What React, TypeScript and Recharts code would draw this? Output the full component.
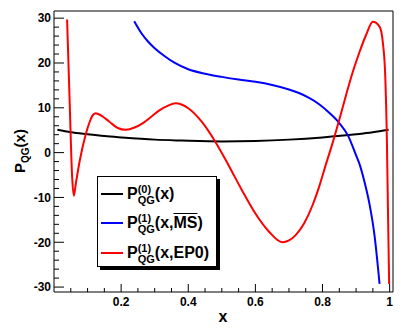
import { Legend, Line, LineChart, ReferenceArea, XAxis, YAxis } from "recharts";

// P(0)_QG(x), leading order
const p0X = [0.01, 0.05, 0.1, 0.15, 0.2, 0.3, 0.38, 0.5, 0.6, 0.7, 0.8, 0.9, 0.95, 0.997];
const p0Y = [5.1, 4.55, 4.1, 3.7, 3.4, 2.9, 2.7, 2.5, 2.6, 2.9, 3.4, 4.1, 4.55, 5.1];

// P(1)_QG(x, MS-bar)
const msX = [0.239, 0.26, 0.28, 0.3, 0.33, 0.36, 0.4, 0.45, 0.5, 0.55, 0.6, 0.65, 0.7, 0.73, 0.76, 0.79, 0.82, 0.85, 0.876, 0.9, 0.91, 0.925, 0.94, 0.955, 0.97];
const msY = [29.3, 26.7, 24.8, 23.3, 21.5, 20.0, 18.6, 17.6, 16.9, 16.3, 15.8, 15.1, 14.1, 13.3, 12.2, 10.8, 8.9, 6.6, 3.8, -0.6, -2.5, -6.5, -11.5, -18.5, -29.3];

// P(1)_QG(x, EP0)
const ep0X = [0.039, 0.047, 0.054, 0.059, 0.065, 0.077, 0.095, 0.107, 0.115, 0.124, 0.146, 0.165, 0.19, 0.214, 0.24, 0.265, 0.29, 0.315, 0.34, 0.362, 0.4, 0.44, 0.48, 0.52, 0.56, 0.6, 0.64, 0.68, 0.7, 0.72, 0.745, 0.77, 0.79, 0.811, 0.831, 0.851, 0.87, 0.891, 0.91, 0.93, 0.95, 0.97, 0.98, 0.987, 0.992, 0.995, 0.9985];
const ep0Y = [29.7, 10.5, -5.4, -9.6, -6.9, -1.7, 4.2, 7.0, 8.3, 8.8, 8.0, 6.9, 5.5, 5.1, 5.6, 6.6, 8.0, 9.5, 10.5, 11.0, 9.9, 6.9, 2.5, -2.8, -8.4, -13.6, -17.6, -20.0, -19.6, -18.4, -15.8, -11.8, -7.6, -2.4, 2.4, 7.6, 12.8, 18.2, 22.4, 26.3, 29.2, 28.1, 24.4, 16.9, 2.0, -12.9, -29.3];

const xTicks = [0.05, 0.1, 0.15, 0.2, 0.25, 0.3, 0.35, 0.4, 0.45, 0.5, 0.55, 0.6, 0.65, 0.7, 0.75, 0.8, 0.85, 0.9, 0.95, 1];
const xLabels = [0.2, 0.4, 0.6, 0.8, 1];
const yTicks = [-30, -28, -26, -24, -22, -20, -18, -16, -14, -12, -10, -8, -6, -4, -2, 0, 2, 4, 6, 8, 10, 12, 14, 16, 18, 20, 22, 24, 26, 28, 30];
const yLabels = [-30, -20, -10, 0, 10, 20, 30];

const seriesOrder = ["p0", "ms", "ep0"];

const FONT = '"Liberation Sans", Arial, Helvetica, sans-serif';

const toPoints = (xs: number[], ys: number[]) => xs.map((x, i) => ({ x, y: ys[i] }));

function XTick(props: any) {
  const { x, y, payload } = props;
  const major = xLabels.includes(payload.value);
  return (
    <g>
      <line x1={x} x2={x} y1={y} y2={y - (major ? 8 : 4)} stroke="#000" />
      {major && (
        <text x={x} y={y + 14} textAnchor="middle" fontFamily={FONT} fontWeight="bold" fontSize={12} fill="#000">
          {payload.value}
        </text>
      )}
    </g>
  );
}

function YTick(props: any) {
  const { x, y, payload } = props;
  const major = yLabels.includes(payload.value);
  return (
    <g>
      <line x1={x} x2={x + (major ? 10 : 5)} y1={y} y2={y} stroke="#000" />
      {major && (
        <text x={x - 3} y={y + 4.3} textAnchor="end" fontFamily={FONT} fontWeight="bold" fontSize={12} fill="#000">
          {payload.value}
        </text>
      )}
    </g>
  );
}

function XTitle() {
  return (
    <text x={223} y={322} textAnchor="middle" fontFamily={FONT} fontWeight="bold" fontSize={16} fill="#000">
      x
    </text>
  );
}

function YTitle() {
  return (
    <text x={25} y={173} transform="rotate(-90, 25, 173)" fontFamily={FONT} fontWeight="bold" fontSize={15} fill="#000">
      P
      <tspan fontSize={10} dy={4}>
        QG
      </tspan>
      <tspan dy={-4}>(x)</tspan>
    </text>
  );
}

function PSymbol({ sup, sub, arg }: { sup: string; sub: string; arg: React.ReactNode }) {
  return (
    <span style={{ display: "inline-flex", alignItems: "center", fontSize: 16, lineHeight: 1 }}>
      <span>P</span>
      <span style={{ display: "inline-flex", flexDirection: "column", fontSize: 11, lineHeight: "11px", marginTop: 2 }}>
        <span>{sup}</span>
        <span>{sub}</span>
      </span>
      <span>{arg}</span>
    </span>
  );
}

const legendLabels: Record<string, React.ReactNode> = {
  p0: <PSymbol sup="(0)" sub="QG" arg="(x)" />,
  ms: (
    <PSymbol
      sup="(1)"
      sub="QG"
      arg={
        <>
          (x,<span style={{ textDecoration: "overline" }}>MS</span>)
        </>
      }
    />
  ),
  ep0: <PSymbol sup="(1)" sub="QG" arg="(x,EP0)" />
};

function renderLegend(props: any) {
  const items = [...(props.payload || [])].sort(
    (a: any, b: any) => seriesOrder.indexOf(a.value) - seriesOrder.indexOf(b.value)
  );
  return (
    <div
      style={{
        boxSizing: "border-box",
        width: 120,
        height: 91,
        border: "1px solid #000",
        boxShadow: "3px 3px 0 #000",
        background: "#fff",
        paddingTop: 2,
        fontFamily: FONT,
        fontWeight: "bold",
        color: "#000"
      }}
    >
      {items.map((entry: any) => (
        <div key={entry.value} style={{ display: "flex", alignItems: "center", height: 29.5 }}>
          <span style={{ display: "inline-block", width: 22, height: 2, marginLeft: 3, background: entry.color }} />
          <span style={{ marginLeft: 4 }}>{legendLabels[entry.value]}</span>
        </div>
      ))}
    </div>
  );
}

function App() {
  return (
    <div style={{ width: 403, height: 332, background: "#fff" }}>
      <style>{"body { margin: 0; }"}</style>
      <LineChart width={403} height={332} margin={{ top: 11, right: 10, bottom: 0, left: 0 }}>
        <XAxis
          type="number"
          dataKey="x"
          domain={[0, 1.01]}
          ticks={xTicks}
          interval={0}
          height={40}
          tickSize={0}
          tickMargin={0}
          tickLine={false}
          axisLine={false}
          tick={<XTick />}
          label={{ content: XTitle }}
        />
        <YAxis
          type="number"
          dataKey="y"
          domain={[-31.1, 31.6]}
          ticks={yTicks}
          interval={0}
          width={54}
          tickSize={0}
          tickMargin={0}
          tickLine={false}
          axisLine={false}
          tick={<YTick />}
          label={{ content: YTitle }}
        />
        <ReferenceArea x1={0} x2={1.01} y1={-31.1} y2={31.6} fill="none" stroke="#000" strokeWidth={1} />
        <Line
          data={toPoints(p0X, p0Y)}
          dataKey="y"
          name="p0"
          type="monotone"
          stroke="#000000"
          strokeWidth={2}
          dot={false}
          isAnimationActive={false}
        />
        <Line
          data={toPoints(msX, msY)}
          dataKey="y"
          name="ms"
          type="monotone"
          stroke="#0000ff"
          strokeWidth={2}
          dot={false}
          isAnimationActive={false}
        />
        <Line
          data={toPoints(ep0X, ep0Y)}
          dataKey="y"
          name="ep0"
          type="monotone"
          stroke="#ff0000"
          strokeWidth={2}
          dot={false}
          isAnimationActive={false}
        />
        <Legend
          layout="vertical"
          align="center"
          verticalAlign="middle"
          wrapperStyle={{ left: 97, top: 176, width: 120, height: 91 }}
          content={renderLegend}
        />
      </LineChart>
    </div>
  );
}

export default App;
